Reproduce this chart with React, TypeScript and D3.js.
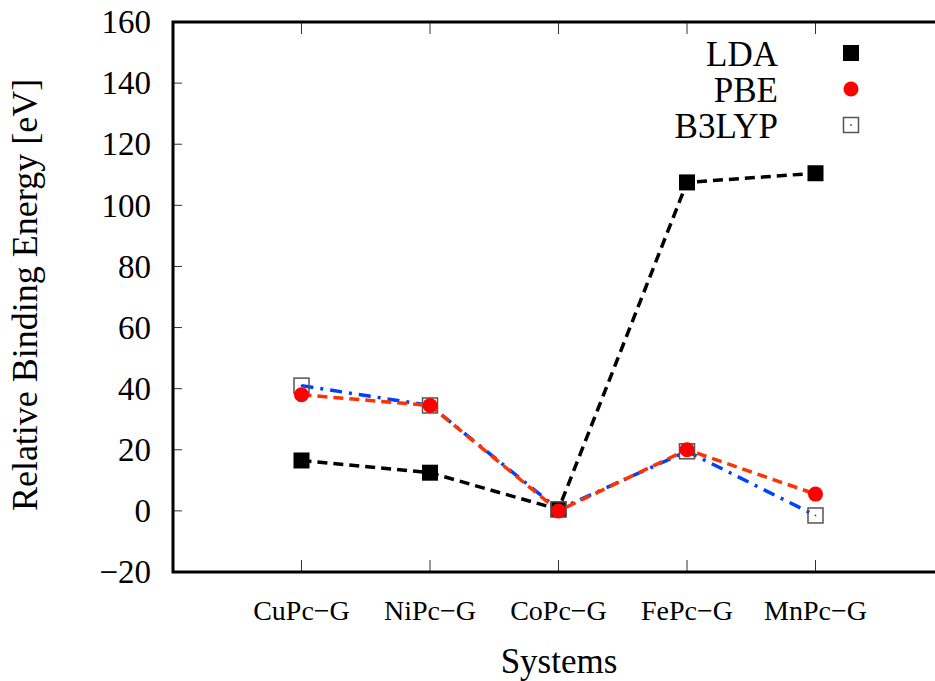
import React, { useRef, useEffect } from "react";
import * as d3 from "d3";

// categories and values
const systems = ["CuPc\u2212G", "NiPc\u2212G", "CoPc\u2212G", "FePc\u2212G", "MnPc\u2212G"];
const lda = [16.5, 12.5, 0.5, 107.5, 110.5];
const pbe = [38, 34.5, 0, 20, 5.5];
const b3lyp = [41, 34.5, 0.5, 19.5, -1.5];
const yTicks = [-20, 0, 20, 40, 60, 80, 100, 120, 140, 160];

const App = () => {
  const container = useRef<SVGSVGElement>(null);

  const width = 935;
  const height = 681;
  const left = 173;
  const top = 22;
  const bottom = 572;
  const right = 944;
  const font = "'Liberation Serif', 'DejaVu Serif', serif";

  useEffect(() => {
    const svg = d3.select(container.current);
    svg.selectAll("*").remove();

    const xScale = d3.scaleLinear().domain([0, 6]).range([left, right]);
    const yScale = d3.scaleLinear().domain([-20, 160]).range([bottom, top]);

    // ticks (inward, mirrored)
    const ticks = svg.append("g").attr("stroke", "#333").attr("stroke-width", 1);
    yTicks.forEach((t) => {
      ticks.append("line").attr("x1", left).attr("x2", left + 9).attr("y1", yScale(t)).attr("y2", yScale(t));
      ticks.append("line").attr("x1", right).attr("x2", right - 9).attr("y1", yScale(t)).attr("y2", yScale(t));
    });
    systems.forEach((s, i) => {
      const x = xScale(i + 1);
      ticks.append("line").attr("x1", x).attr("x2", x).attr("y1", bottom).attr("y2", bottom - 12);
      ticks.append("line").attr("x1", x).attr("x2", x).attr("y1", top).attr("y2", top + 12);
    });

    // y tick labels
    svg
      .append("g")
      .selectAll("text")
      .data(yTicks)
      .enter()
      .append("text")
      .attr("x", 151)
      .attr("y", (d) => yScale(d))
      .attr("dy", "0.34em")
      .attr("text-anchor", "end")
      .style("font-family", font)
      .style("font-size", "33px")
      .text((d) => (d < 0 ? "\u2212" + Math.abs(d) : String(d)));

    // x tick labels
    svg
      .append("g")
      .selectAll("text")
      .data(systems)
      .enter()
      .append("text")
      .attr("x", (d, i) => xScale(i + 1))
      .attr("y", 620)
      .attr("text-anchor", "middle")
      .style("font-family", font)
      .style("font-size", "28px")
      .text((d) => d);

    // axis titles
    svg
      .append("text")
      .attr("x", 559)
      .attr("y", 673)
      .attr("text-anchor", "middle")
      .style("font-family", font)
      .style("font-size", "35px")
      .text("Systems");

    svg
      .append("text")
      .attr("transform", "translate(37, 295) rotate(-90)")
      .attr("text-anchor", "middle")
      .style("font-family", font)
      .style("font-size", "36px")
      .text("Relative Binding Energy [eV]");

    const line = d3
      .line<number>()
      .x((d, i) => xScale(i + 1))
      .y((d) => yScale(d));

    // LDA
    svg
      .append("path")
      .attr("d", line(lda))
      .attr("fill", "none")
      .attr("stroke", "#000")
      .attr("stroke-width", 3.5)
      .attr("stroke-dasharray", "10,6");
    svg
      .append("g")
      .selectAll("rect")
      .data(lda)
      .enter()
      .append("rect")
      .attr("x", (d, i) => xScale(i + 1) - 8)
      .attr("y", (d) => yScale(d) - 8)
      .attr("width", 16)
      .attr("height", 16)
      .attr("fill", "#000");

    // B3LYP
    svg
      .append("path")
      .attr("d", line(b3lyp))
      .attr("fill", "none")
      .attr("stroke", "#0040ff")
      .attr("stroke-width", 3.5)
      .attr("stroke-dasharray", "12,7,3,7");
    const b3g = svg.append("g");
    b3lyp.forEach((d, i) => {
      b3g
        .append("rect")
        .attr("x", xScale(i + 1) - 7.5)
        .attr("y", yScale(d) - 7.5)
        .attr("width", 15)
        .attr("height", 15)
        .attr("fill", "none")
        .attr("stroke", "#555")
        .attr("stroke-width", 1.5);
      b3g
        .append("rect")
        .attr("x", xScale(i + 1) - 0.75)
        .attr("y", yScale(d) - 0.75)
        .attr("width", 1.5)
        .attr("height", 1.5)
        .attr("fill", "#333");
    });

    // PBE
    svg
      .append("path")
      .attr("d", line(pbe))
      .attr("fill", "none")
      .attr("stroke", "#ff3300")
      .attr("stroke-width", 3.5)
      .attr("stroke-dasharray", "10,6");
    svg
      .append("g")
      .selectAll("circle")
      .data(pbe)
      .enter()
      .append("circle")
      .attr("cx", (d, i) => xScale(i + 1))
      .attr("cy", (d) => yScale(d))
      .attr("r", 7.5)
      .attr("fill", "#ff0000");

    // legend
    const legend = svg.append("g");
    const entries = [
      { name: "LDA", y: 53 },
      { name: "PBE", y: 89 },
      { name: "B3LYP", y: 125 },
    ];
    entries.forEach((e) => {
      legend
        .append("text")
        .attr("x", 778)
        .attr("y", e.y)
        .attr("dy", "0.36em")
        .attr("text-anchor", "end")
        .style("font-family", font)
        .style("font-size", "35px")
        .text(e.name);
    });
    legend.append("rect").attr("x", 843).attr("y", 45).attr("width", 16).attr("height", 16).attr("fill", "#000");
    legend.append("circle").attr("cx", 851).attr("cy", 89).attr("r", 7.5).attr("fill", "#ff0000");
    legend
      .append("rect")
      .attr("x", 843.5)
      .attr("y", 117.5)
      .attr("width", 15)
      .attr("height", 15)
      .attr("fill", "none")
      .attr("stroke", "#555")
      .attr("stroke-width", 1.5);
    legend.append("rect").attr("x", 850.25).attr("y", 124.25).attr("width", 1.5).attr("height", 1.5).attr("fill", "#333");

    // frame
    svg
      .append("rect")
      .attr("x", left)
      .attr("y", top)
      .attr("width", right - left)
      .attr("height", bottom - top)
      .attr("fill", "none")
      .attr("stroke", "#000")
      .attr("stroke-width", 3);
  }, []);

  return (
    <svg
      ref={container}
      width={width}
      height={height}
      style={{ position: "absolute", left: 0, top: 0, background: "#fff" }}
    />
  );
};

export default App;
